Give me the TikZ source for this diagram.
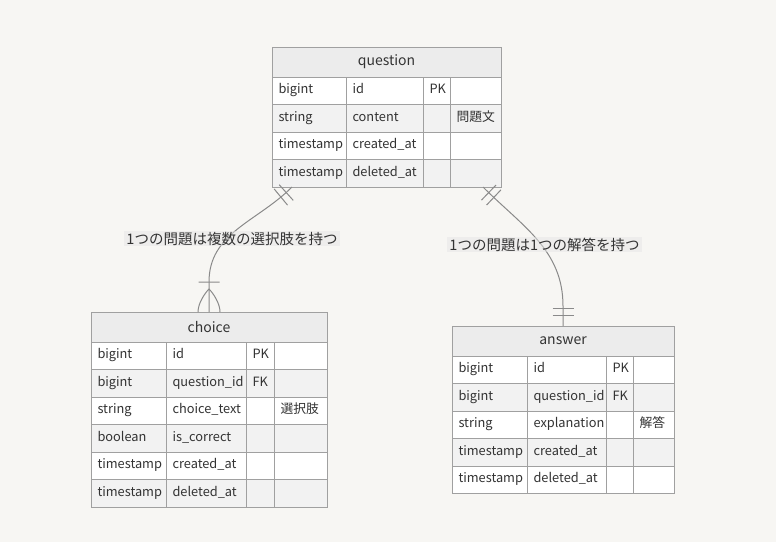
\documentclass[tikz,border=0pt]{standalone}
\usepackage{fontspec}
\setmainfont{Noto Sans CJK JP}
\usepackage{xcolor}
\usepackage{tikz}
\usetikzlibrary{decorations.markings}
\definecolor{bgcol}{HTML}{F7F6F3}
\definecolor{headgrey}{HTML}{ECECEC}
\definecolor{rowgrey}{HTML}{F2F2F2}
\definecolor{edgegrey}{HTML}{A0A0A0}
\definecolor{linegrey}{HTML}{8A8A8A}
\definecolor{lblgrey}{HTML}{E6E6E6}
\definecolor{textcol}{HTML}{333333}
\tikzset{cell/.style={rectangle,draw=edgegrey,line width=1pt,anchor=north west,outer sep=0pt,inner xsep=6.5pt,inner ysep=0pt,minimum height=27.5pt,text width=#1,align=left,text height=9pt,text depth=3pt,font=\fontsize{12.8}{15}\selectfont,text=textcol}}
\tikzset{head/.style={rectangle,draw=edgegrey,line width=1pt,fill=headgrey,anchor=north west,outer sep=0pt,minimum height=30pt,minimum width=#1,font=\fontsize{14}{16}\selectfont,text=textcol}}
\tikzset{tbl/.style={rectangle,draw=edgegrey,line width=1pt,anchor=north west,outer sep=0pt,inner sep=0pt}}
\tikzset{lbl/.style={rectangle,fill=lblgrey,fill opacity=0.5,text opacity=1,inner xsep=2pt,inner ysep=1pt,font=\fontsize{14.5}{16}\selectfont,text=textcol}}
\tikzset{rel/.style={draw=linegrey,line width=1pt}}
\newcommand{\onebar}{\draw[linegrey,line width=1pt] (0pt,-10.5pt) -- (0pt,10.5pt);}
\newcommand{\crowfoot}{\draw[linegrey,line width=1pt] (23pt,-11pt) .. controls (14pt,-11pt) and (4pt,-4pt) .. (0pt,0pt) .. controls (4pt,4pt) and (14pt,11pt) .. (23pt,11pt);}
\begin{document}
\begin{tikzpicture}[x=1pt,y=-1pt]
        \fill[bgcol] (0,0) rectangle (776,542);

        \node[head=229pt] (q-h) at (272,47) {question};
        \foreach \ta/\tb/\tc/\td [count=\i] in {bigint/id/PK/{}, string/content/{}/問題文, timestamp/created\_at/{}/{}, timestamp/deleted\_at/{}/{}}{
            \pgfmathsetmacro\ry{77+(\i-1)*27.5}
            \ifodd\i \def\rf{white}\else \def\rf{rowgrey}\fi
            \node[cell=61pt,fill=\rf] (q-\i-1) at (272,\ry) {\ta};
            \node[cell=64pt,fill=\rf] (q-\i-2) at (346,\ry) {\tb};
            \node[cell=14pt,fill=\rf] (q-\i-3) at (423,\ry) {\tc};
            \node[cell=38pt,fill=\rf] (q-\i-4) at (450,\ry) {\td};
        }
        \node[tbl,minimum width=229pt,minimum height=140pt] (question) at (272,47) {};

        \node[head=236pt] (c-h) at (91,312) {choice};
        \foreach \ta/\tb/\tc/\td [count=\i] in {bigint/id/PK/{}, bigint/question\_id/FK/{}, string/choice\_text/{}/選択肢, boolean/is\_correct/{}/{}, timestamp/created\_at/{}/{}, timestamp/deleted\_at/{}/{}}{
            \pgfmathsetmacro\ry{342+(\i-1)*27.5}
            \ifodd\i \def\rf{white}\else \def\rf{rowgrey}\fi
            \node[cell=62pt,fill=\rf] (c-\i-1) at (91,\ry) {\ta};
            \node[cell=67pt,fill=\rf] (c-\i-2) at (166,\ry) {\tb};
            \node[cell=15pt,fill=\rf] (c-\i-3) at (246,\ry) {\tc};
            \node[cell=40pt,fill=\rf] (c-\i-4) at (274,\ry) {\td};
        }
        \node[tbl,minimum width=236pt,minimum height=195pt] (choice) at (91,312) {};

        \node[head=222pt] (a-h) at (452,326) {answer};
        \foreach \ta/\tb/\tc/\td [count=\i] in {bigint/id/PK/{}, bigint/question\_id/FK/{}, string/explanation/{}/解答, timestamp/created\_at/{}/{}, timestamp/deleted\_at/{}/{}}{
            \pgfmathsetmacro\ry{356+(\i-1)*27.5}
            \ifodd\i \def\rf{white}\else \def\rf{rowgrey}\fi
            \node[cell=62pt,fill=\rf] (a-\i-1) at (452,\ry) {\ta};
            \node[cell=66pt,fill=\rf] (a-\i-2) at (527,\ry) {\tb};
            \node[cell=14pt,fill=\rf] (a-\i-3) at (606,\ry) {\tc};
            \node[cell=28pt,fill=\rf] (a-\i-4) at (633,\ry) {\td};
        }
        \node[tbl,minimum width=222pt,minimum height=167.5pt] (answer) at (452,326) {};

        \draw[rel,postaction={decorate},decoration={markings,mark=at position 8pt with {\onebar},mark=at position 15pt with {\onebar},mark=at position -30pt with {\onebar},mark=at position -23pt with {\crowfoot}}] ([xshift=20pt]question.south west) to[out=225,in=90] ([yshift=30pt]choice.north) -- (choice.north);
        \draw[rel,postaction={decorate},decoration={markings,mark=at position 8pt with {\onebar},mark=at position 15pt with {\onebar},mark=at position -18pt with {\onebar},mark=at position -11pt with {\onebar}}] ([xshift=-18pt]question.south east) to[out=-45,in=90] ([yshift=20pt]answer.north) -- (answer.north);

        \node[lbl] (l-qc) at (232,238.5) {1つの問題は複数の選択肢を持つ};
        \node[lbl] (l-qa) at (544.5,244.5) {1つの問題は1つの解答を持つ};
    \end{tikzpicture}
\end{document}
